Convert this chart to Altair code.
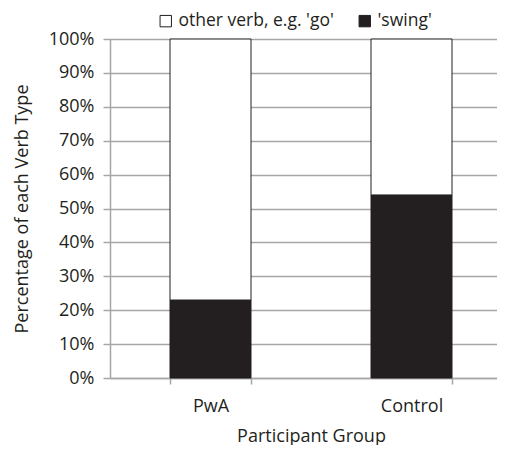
import altair as alt
import pandas as pd

groups = ["PwA", "Control"]
series = ["other verb, e.g. 'go'", "'swing'"]
swing = [0.23, 0.54]
other = [0.77, 0.46]
colors = ["#ffffff", "#231f20"]

rows = []
for g, s, o in zip(groups, swing, other):
    rows.append({"group": g, "type": series[1], "value": s, "ord": 0})
    rows.append({"group": g, "type": series[0], "value": o, "ord": 1})
df = pd.DataFrame(rows)

FONT = "Open Sans"
FS = 18

chart = alt.Chart(df).mark_bar(size=81, stroke="#231f20", strokeWidth=1).encode(
    x=alt.X("group:N", sort=groups, title="Participant Group",
            scale=alt.Scale(paddingInner=0.6, paddingOuter=0.3, range=[0, 402]),
            axis=alt.Axis(labelAngle=0, tickBand="extent", domainColor="#a6a6a6",
                          domainWidth=1.5, tickColor="#a6a6a6", tickWidth=1.5,
                          tickSize=6, labelPadding=13, titlePadding=12)),
    y=alt.Y("value:Q", stack="zero", title="Percentage of each Verb Type",
            scale=alt.Scale(domain=[0, 1], nice=False),
            axis=alt.Axis(format=".0%", values=[i / 10 for i in range(11)],
                          domainColor="#a6a6a6", domainWidth=1.5,
                          tickColor="#a6a6a6", tickWidth=1.5, tickSize=7,
                          gridColor="#a6a6a6", gridWidth=1.5,
                          labelPadding=9, titlePadding=17)),
    color=alt.Color("type:N", scale=alt.Scale(domain=series, range=colors),
                    legend=alt.Legend(title=None, orient="none", direction="horizontal",
                                      legendX=47, legendY=-27, symbolType="square",
                                      symbolSize=130, symbolStrokeColor="#231f20",
                                      symbolStrokeWidth=1, columnPadding=22,
                                      labelFontSize=17.5, labelFont=FONT,
                                      labelColor="#231f20")),
    order=alt.Order("ord:Q"),
).properties(
    width=387, height=339,
    autosize=alt.AutoSizeParams(type="none"),
    padding={"left": 102, "top": 31, "right": 0, "bottom": 67},
).configure_view(stroke=None).configure_axis(
    labelFont=FONT, titleFont=FONT, labelFontSize=FS, titleFontSize=FS,
    labelColor="#231f20", titleColor="#231f20", titleFontWeight="normal",
)

chart.save("out.html", embed_options={"renderer": "svg", "actions": False})
